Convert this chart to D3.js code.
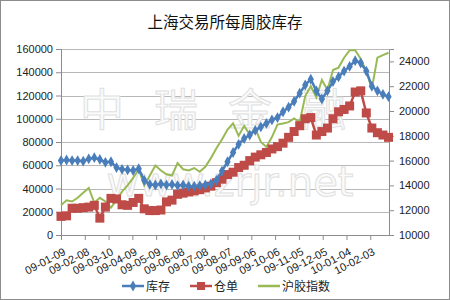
<!DOCTYPE html>
<html><head><meta charset="utf-8">
<script src="https://cdn.jsdelivr.net/npm/d3@7/dist/d3.min.js"></script>
<style>body{margin:0;background:#fff}svg{display:block}</style>
</head><body>
<svg id="c" width="450" height="300"></svg>
<script>
const title = "上海交易所每周胶库存";
const seriesNames = ["库存", "仓单", "沪胶指数"];
const dates = [
 "09-01-09","09-01-16","09-01-23","09-01-30","09-02-06","09-02-13","09-02-20","09-02-27",
 "09-03-06","09-03-13","09-03-20","09-03-27","09-04-03","09-04-10","09-04-17","09-04-24",
 "09-05-01","09-05-08","09-05-15","09-05-22","09-05-29","09-06-05","09-06-12","09-06-19",
 "09-06-26","09-07-03","09-07-10","09-07-17","09-07-24","09-07-31","09-08-07","09-08-14",
 "09-08-21","09-08-28","09-09-04","09-09-11","09-09-18","09-09-25","09-10-02","09-10-09",
 "09-10-16","09-10-23","09-10-30","09-11-06","09-11-13","09-11-20","09-11-27","09-12-04",
 "09-12-11","09-12-18","09-12-25","10-01-01","10-01-08","10-01-15","10-01-22","10-01-29",
 "10-02-05","10-02-12","10-02-19","10-02-26"];
const stock = [64000,64500,64000,64000,63500,65500,66500,65000,62500,63000,58000,56500,56000,55500,57000,47000,
 43500,43000,44000,43000,43500,42500,43000,42000,42000,42500,43000,44000,47000,55000,63000,71000,
 78000,83000,86000,90000,93000,96000,99000,101000,106000,110000,115000,122000,129000,134000,124000,117000,
 124000,132000,136000,141000,145000,150000,148000,141000,128000,124000,121000,119000];
const warrant = [16000,16500,23000,23000,23500,24000,25500,14500,24000,31500,31000,26000,25500,28000,31500,22500,
 21000,21000,21500,28500,30000,35000,36000,37000,38000,39000,40500,42000,45000,48000,52000,54000,
 58000,60000,64000,67000,69000,71000,74000,76000,79000,84000,89000,94000,100000,101000,86000,89000,
 92000,100000,106000,108000,111000,123000,124000,105000,92000,88000,86000,84000];
const index = [12400,12800,12700,13000,13400,13800,12600,13000,12700,12200,12800,13500,14000,14600,15300,14000,
 14800,15600,15200,14900,14800,15800,15300,15200,15400,15100,15500,16200,17000,17700,18500,19000,
 18000,18800,18100,18600,17500,17100,17900,18900,19000,19100,19400,19100,21200,22000,21100,22500,
 21700,23300,23500,24300,24900,24900,24200,23200,21800,24300,24500,24700];
const tickLabels = ["09-01-09","09-02-08","09-03-10","09-04-09","09-05-09","09-06-08","09-07-08",
 "09-08-07","09-09-06","09-10-06","09-11-05","09-12-05","10-01-04","10-02-03"];
const leftTicks = [0,20000,40000,60000,80000,100000,120000,140000,160000];
const rightTicks = [10000,12000,14000,16000,18000,20000,22000,24000];

const parse = d3.utcParse("%y-%m-%d");
const svg = d3.select("#c");
const L = 61, R = 388.5, T = 49, B = 235;
const x = d3.scaleUtc().domain([parse(dates[0]), parse(dates[dates.length-1])]).range([L, R]);
const yL = d3.scaleLinear().domain([0,160000]).range([B, T]);
const yR = d3.scaleLinear().domain([10000,25000]).range([B, T]);
const font = "'Liberation Sans', Arial, sans-serif";
const cBlue = "#4A7EBB", cRed = "#BE4B48", cGreen = "#98B954";

// frame
svg.append("rect").attr("x",0.5).attr("y",0.5).attr("width",449).attr("height",299)
  .attr("fill","#fff").attr("stroke","#8c8c8c");

// title
svg.append("text").attr("x",225).attr("y",28).attr("text-anchor","middle")
  .attr("font-family","'Noto Sans CJK SC', sans-serif").attr("font-size",15.5).attr("fill","#111")
  .text(title);

// gridlines
svg.append("g").selectAll("line").data(leftTicks).join("line")
  .attr("x1",L).attr("x2",R+0.5).attr("y1",d=>Math.round(yL(d))+0.5).attr("y2",d=>Math.round(yL(d))+0.5)
  .attr("stroke","#b8b8b8").attr("stroke-width",1);

// watermark
const wm = svg.append("g").attr("fill","#fbfbfb").attr("stroke","#e0e0e0").attr("stroke-width",1);
wm.append("text").attr("x",228).attr("y",126).attr("text-anchor","middle")
  .attr("font-family","'Noto Sans CJK SC', sans-serif").attr("font-size",44).attr("letter-spacing",30)
  .text("中瑞金融");
wm.append("text").attr("x",230).attr("y",196).attr("text-anchor","middle")
  .attr("font-family","'DejaVu Sans', sans-serif").attr("font-size",40)
  .text("www.zrjr.net");

// axes
const axL = svg.append("g").attr("transform",`translate(${L},0)`)
  .call(d3.axisLeft(yL).tickValues(leftTicks).tickSize(5).tickPadding(3).tickFormat(d3.format("d")));
const axR = svg.append("g").attr("transform",`translate(${R+0.5},0)`)
  .call(d3.axisRight(yR).tickValues(rightTicks).tickSize(5).tickPadding(5).tickFormat(d3.format("d")));
const tickDates = tickLabels.map(parse);
const axB = svg.append("g").attr("transform",`translate(0,${B})`)
  .call(d3.axisBottom(x).tickValues(tickDates).tickSize(5).tickFormat(d3.utcFormat("%y-%m-%d")));
[axL,axR,axB].forEach(a=>{
  a.select(".domain").attr("stroke","#8c8c8c");
  a.selectAll(".tick line").attr("stroke","#8c8c8c");
  a.selectAll("text").attr("font-family",font).attr("font-size",11).attr("fill","#222");
});
axB.select(".domain").attr("d",`M${L},0.5H${R+0.5}`);
axB.selectAll(".tick text").attr("text-anchor","end").attr("dy",0).attr("y",0)
  .attr("transform","translate(5,19) rotate(-28)");

// lines
const pts = dates.map((d,i)=>({d:parse(d), s:stock[i], w:warrant[i], g:index[i]}));
svg.append("path").datum(pts).attr("fill","none").attr("stroke",cGreen).attr("stroke-width",2)
  .attr("d",d3.line().x(p=>x(p.d)).y(p=>yR(p.g)));
svg.append("path").datum(pts).attr("fill","none").attr("stroke",cRed).attr("stroke-width",2.5)
  .attr("d",d3.line().x(p=>x(p.d)).y(p=>yL(p.w)));
svg.append("g").selectAll("rect").data(pts).join("rect")
  .attr("x",p=>x(p.d)-4.5).attr("y",p=>yL(p.w)-4.5).attr("width",9).attr("height",9).attr("fill",cRed);
svg.append("path").datum(pts).attr("fill","none").attr("stroke",cBlue).attr("stroke-width",2.5)
  .attr("d",d3.line().x(p=>x(p.d)).y(p=>yL(p.s)));
const dia = d3.symbol().type(d3.symbolDiamond).size(34);
svg.append("g").selectAll("path").data(pts).join("path")
  .attr("transform",p=>`translate(${x(p.d)},${yL(p.s)})`).attr("d",dia).attr("fill",cBlue);

// legend
const lg = svg.append("g").attr("font-family","'Noto Sans CJK SC', sans-serif").attr("font-size",12).attr("fill","#222");
const items = [{n:seriesNames[0],c:cBlue,m:"d",x:122},{n:seriesNames[1],c:cRed,m:"s",x:190},{n:seriesNames[2],c:cGreen,m:"",x:258}];
items.forEach(it=>{
  lg.append("line").attr("x1",it.x).attr("x2",it.x+22).attr("y1",286).attr("y2",286)
    .attr("stroke",it.c).attr("stroke-width",2.5);
  if(it.m==="d") lg.append("path").attr("transform",`translate(${it.x+11},286)`).attr("d",dia).attr("fill",it.c);
  if(it.m==="s") lg.append("rect").attr("x",it.x+7).attr("y",282).attr("width",8).attr("height",8).attr("fill",it.c);
  lg.append("text").attr("x",it.x+24).attr("y",290.5).text(it.n);
});
</script>
</body></html>
